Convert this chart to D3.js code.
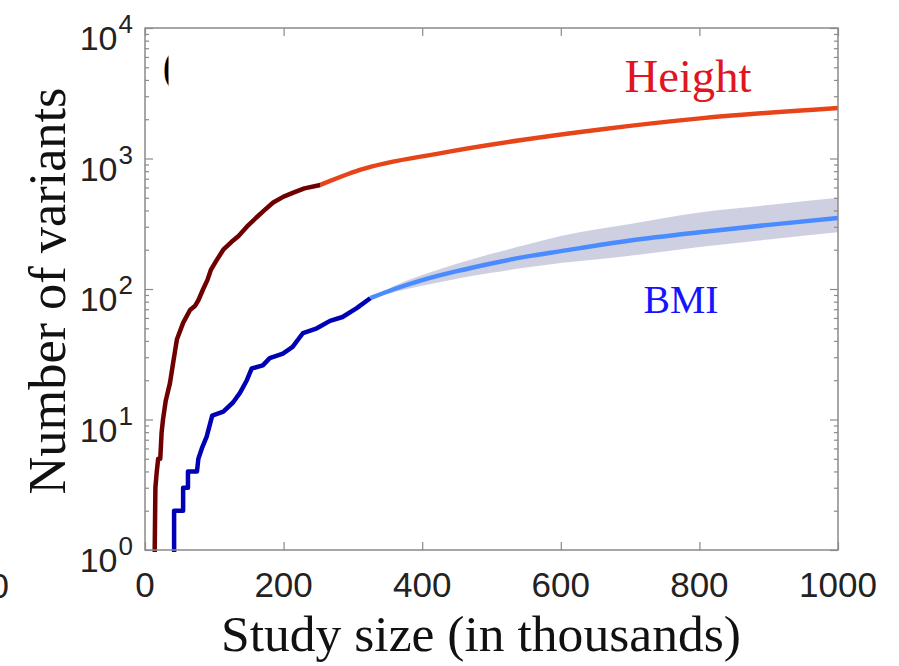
<!DOCTYPE html>
<html>
<head>
<meta charset="utf-8">
<script src="https://cdn.jsdelivr.net/npm/d3@7"></script>
<style>
  body { margin: 0; background: #fff; }
  svg { display: block; }
  .tick-num { font-family: "Liberation Sans", Arial, sans-serif; fill: #222; }
  .serif { font-family: "Liberation Serif", "DejaVu Serif", serif; }
</style>
</head>
<body>
<svg width="899" height="666"></svg>
<script>
// observed GWAS counts (study size in thousands, number of variants)
var heightObsX = [14, 15, 17, 19, 22, 24, 26, 30, 36, 41, 46, 55, 65, 72, 77, 84, 90, 95, 103, 113, 125, 135, 147, 160, 172, 185, 200, 215, 230, 253];
var heightObsY = [1, 3, 4, 5, 5, 8, 10, 14, 19, 28, 41, 55, 69, 74, 82, 100, 117, 140, 165, 200, 230, 255, 300, 350, 400, 460, 510, 550, 590, 627];

var bmiObsX = [42, 42, 55, 55, 62, 62, 75, 77, 82, 89, 97, 113, 127, 137, 147, 154, 170, 180, 199, 213, 228, 248, 267, 285, 305, 325];
var bmiObsY = [1, 2, 2, 3, 3, 4, 4, 5, 6, 7.4, 10.7, 11.5, 13.5, 16, 20, 24.6, 26, 29.5, 32, 36, 46, 50, 57, 61, 71, 85];

// extrapolated curves
var heightFitX = [253, 310, 427, 541, 657, 801, 1000];
var heightFitY = [627, 817, 1100, 1380, 1670, 2030, 2440];

var bmiFitX  = [325, 360, 400, 450, 500, 550, 600, 700, 800, 900, 1000];
var bmiFitY  = [85, 100, 117, 137, 157, 177, 195, 235, 272, 310, 350];
var bmiFitLo = [85, 95, 106, 120, 133, 146, 158, 180, 210, 240, 272];
var bmiFitHi = [85, 106, 128, 156, 186, 218, 255, 315, 385, 440, 500];

var xTicks = [0, 200, 400, 600, 800, 1000];
var yTickExp = [0, 1, 2, 3, 4];

var svg = d3.select("svg");
var margin = { top: 28, right: 61, bottom: 116, left: 145 };
var width = 899 - margin.left - margin.right;
var height = 666 - margin.top - margin.bottom;

var g = svg.append("g").attr("transform", "translate(" + margin.left + "," + margin.top + ")");

var x = d3.scaleLinear().domain([0, 1000]).range([0, width]);
var y = d3.scaleLog().domain([1, 10000]).range([height, 0]);

var defs = svg.append("defs");
defs.append("clipPath").attr("id", "plotclip")
    .append("rect").attr("x", 0).attr("y", -2).attr("width", width).attr("height", height + 4);

function zipPts(xs, ys) { return xs.map(function(d, i) { return [d, ys[i]]; }); }

var plot = g.append("g").attr("clip-path", "url(#plotclip)");

// confidence band for BMI
var band = bmiFitX.map(function(d, i) { return { x: d, lo: bmiFitLo[i], hi: bmiFitHi[i] }; });
plot.append("path")
    .datum(band)
    .attr("fill", "#c5c8dd")
    .attr("opacity", 0.85)
    .attr("d", d3.area()
        .curve(d3.curveMonotoneX)
        .x(function(d) { return x(d.x); })
        .y0(function(d) { return y(d.lo); })
        .y1(function(d) { return y(d.hi); }));

var smooth = d3.line().curve(d3.curveMonotoneX)
    .x(function(d) { return x(d[0]); })
    .y(function(d) { return y(d[1]); });
var jagged = d3.line()
    .x(function(d) { return x(d[0]); })
    .y(function(d) { return y(d[1]); });

plot.append("path").datum(zipPts(heightFitX, heightFitY))
    .attr("fill", "none").attr("stroke", "#e8441a").attr("stroke-width", 4.5).attr("d", smooth);
plot.append("path").datum(zipPts(bmiFitX, bmiFitY))
    .attr("fill", "none").attr("stroke", "#4a8cff").attr("stroke-width", 4.5).attr("d", smooth);

// observed: start just below the bottom edge
var hObs = [[heightObsX[0], 0.9]].concat(zipPts(heightObsX, heightObsY));
var bObs = [[bmiObsX[0], 0.9]].concat(zipPts(bmiObsX, bmiObsY));
plot.append("path").datum(hObs)
    .attr("fill", "none").attr("stroke", "#6e0000").attr("stroke-width", 4.5)
    .attr("stroke-linejoin", "round").attr("d", jagged);
plot.append("path").datum(bObs)
    .attr("fill", "none").attr("stroke", "#0000b4").attr("stroke-width", 4.5)
    .attr("stroke-linejoin", "round").attr("d", jagged);

// frame + ticks (inward)
var axisColor = "#8a8a8a";
g.append("rect").attr("width", width).attr("height", height)
    .attr("fill", "none").attr("stroke", axisColor).attr("stroke-width", 1.5);

var minor = [];
for (var e = 0; e < 4; e++) for (var m = 2; m < 10; m++) minor.push(m * Math.pow(10, e));
var major = yTickExp.map(function(p) { return Math.pow(10, p); });

function styleAxis(sel) {
    sel.select(".domain").remove();
    sel.selectAll("line").attr("stroke", axisColor).attr("stroke-width", 1.2);
    sel.selectAll("text").remove();
}
g.append("g").call(d3.axisRight(y).tickValues(major).tickSize(8)).call(styleAxis);
g.append("g").call(d3.axisRight(y).tickValues(minor).tickSize(4)).call(styleAxis);
g.append("g").attr("transform", "translate(" + width + ",0)")
    .call(d3.axisLeft(y).tickValues(major).tickSize(8)).call(styleAxis);
g.append("g").attr("transform", "translate(" + width + ",0)")
    .call(d3.axisLeft(y).tickValues(minor).tickSize(4)).call(styleAxis);
g.append("g").attr("transform", "translate(0," + height + ")")
    .call(d3.axisTop(x).tickValues(xTicks).tickSize(8)).call(styleAxis);
g.append("g").call(d3.axisBottom(x).tickValues(xTicks).tickSize(8)).call(styleAxis);

// tick labels
g.selectAll(".xlab").data(xTicks).enter().append("text")
    .attr("class", "tick-num")
    .attr("x", function(d) { return x(d); })
    .attr("y", height + 47)
    .attr("text-anchor", "middle")
    .attr("font-size", 35)
    .text(function(d) { return d; });

var yl = g.selectAll(".ylab").data(yTickExp).enter().append("text")
    .attr("class", "tick-num")
    .attr("x", -12)
    .attr("y", function(d) { return y(Math.pow(10, d)) + 22; })
    .attr("text-anchor", "end")
    .attr("font-size", 34);
yl.append("tspan").text("10");
yl.append("tspan").attr("dx", 1).attr("dy", -17).attr("font-size", 26).text(function(d) { return d; });

// stretch/shrink a text's font so it covers the width measured on the picture
function fitWidth(sel, target) {
    var w = sel.node().getComputedTextLength();
    sel.attr("font-size", +sel.attr("font-size") * target / w);
    return sel;
}

// axis titles
svg.append("text").attr("class", "serif")
    .attr("x", 481).attr("y", 651)
    .attr("text-anchor", "middle").attr("font-size", 44).attr("fill", "#111")
    .text("Study size (in thousands)")
    .call(fitWidth, 520);
svg.append("text").attr("class", "serif")
    .attr("transform", "translate(65,291) rotate(-90)")
    .attr("text-anchor", "middle").attr("font-size", 44).attr("fill", "#111")
    .text("Number of variants")
    .call(fitWidth, 407);

// series labels
svg.append("text").attr("class", "serif")
    .attr("x", 688).attr("y", 92).attr("text-anchor", "middle")
    .attr("font-size", 40).attr("fill", "#e0151f").text("Height")
    .call(fitWidth, 127);
svg.append("text").attr("class", "serif")
    .attr("x", 681).attr("y", 313).attr("text-anchor", "middle")
    .attr("font-size", 40).attr("fill", "#1414ff").text("BMI")
    .call(fitWidth, 75);

// cropped remnants from neighbouring panels
defs.append("clipPath").attr("id", "parclip")
    .append("rect").attr("x", 150).attr("y", 40).attr("width", 18.5).attr("height", 60);
svg.append("text").attr("class", "serif").attr("clip-path", "url(#parclip)")
    .attr("x", 162.5).attr("y", 82).attr("font-size", 46).attr("fill", "#000").text("(");
svg.append("text").attr("class", "tick-num")
    .attr("x", 9).attr("y", 598).attr("text-anchor", "end").attr("font-size", 35).text("0");
</script>
</body>
</html>
